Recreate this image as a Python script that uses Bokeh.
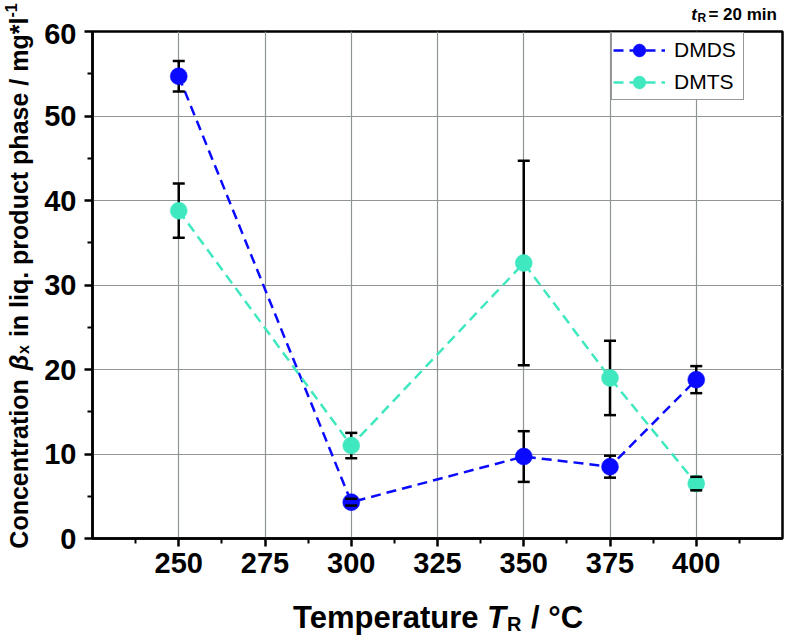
import math
from bokeh.plotting import figure
from bokeh.models import FixedTicker, Legend, LegendItem, Range1d
from bokeh.layouts import row, column
from bokeh.core.properties import value
from bokeh.embed import file_html
from bokeh.resources import INLINE

# ---------------- data ----------------
temps = [250, 300, 350, 375, 400]
dmds = [54.7, 4.3, 9.7, 8.5, 18.8]
dmds_err = [1.8, 0.4, 3.0, 1.3, 1.6]
dmts = [38.8, 11.0, 32.6, 19.0, 6.5]
dmts_err = [3.2, 1.5, 12.1, 4.4, 0.8]

x_ticks = [250, 275, 300, 325, 350, 375, 400]
x_minor = [237.5, 262.5, 287.5, 312.5, 337.5, 362.5, 387.5, 412.5]
y_ticks = [0, 10, 20, 30, 40, 50, 60]
y_minor = [5, 15, 25, 35, 45, 55]

C_DMDS = "#0a0aff"
C_DMTS = "#40e8c0"
GRID = "#8f9595"
FONT = "Liberation Sans"

# Arial / Liberation Sans Bold advance widths (per 1000 em)
BW = {' ': 278, '.': 278, '/': 278, '*': 389, '-': 333, '=': 584, '°': 400,
      '0': 556, '1': 556, '2': 556, '3': 556, '4': 556, '5': 556, '6': 556, '7': 556, '8': 556, '9': 556,
      'C': 722, 'R': 722, 'T': 611,
      'a': 556, 'b': 611, 'c': 556, 'd': 611, 'e': 556, 'f': 333, 'g': 611, 'h': 611, 'i': 278,
      'l': 278, 'm': 889, 'n': 611, 'o': 611, 'p': 611, 'q': 611, 'r': 389, 's': 556, 't': 333,
      'u': 611, 'x': 556, 'β': 611}


def tw(s, size):
    return sum(BW.get(c, 556) for c in s) * size / 1000.0


def strip(w, h):
    f = figure(width=w, height=h, x_range=Range1d(0, w), y_range=Range1d(0, h),
               x_axis_type=None, y_axis_type=None, output_backend="svg",
               toolbar_location=None, min_border=0)
    f.outline_line_color = None
    f.background_fill_color = "white"
    f.border_fill_color = "white"
    return f


def put(f, parts, x0, y0, angle=0.0, align="left"):
    """parts: (text, size, style, shift_px, advance_px, lead_px) drawn along the angle direction."""
    ca, sa = math.cos(angle), math.sin(angle)
    pos = 0.0
    for txt, sz, st, shift, adv, lead in parts:
        s = pos + lead
        xx = x0 + s * ca + shift * sa
        yy = y0 + s * sa - shift * ca
        f.text(x=[xx], y=[yy], text=[txt], text_font=value(FONT), text_font_style=st,
               text_font_size=f"{sz}px", text_color="black", text_align=align,
               text_baseline="alphabetic", angle=angle)
        pos += adv


# ---------------- sizes (page coordinates = canvas coordinates) ----------------
W_ALL = 786
LW = 40               # left strip width  (page x 0..40)
RW = W_ALL - LW       # right column width (page x 40..786)
TH = 23               # top strip height  (page y 0..23)
MH = 565              # main figure height (page y 23..588)
BH = 54               # bottom strip height (page y 588..642)
TOTAL_H = TH + MH + BH

# ---------------- main plot ----------------
p = figure(width=RW, height=MH, x_range=(225, 425), y_range=(0, 60),
           output_backend="svg", toolbar_location=None,
           min_border_left=52, min_border_right=RW - 52 - 690,
           min_border_top=31 - TH, min_border_bottom=50)
p.background_fill_color = "white"
p.border_fill_color = "white"
p.outline_line_color = "black"
p.outline_line_width = 2.5

for ax in (p.xaxis[0], p.yaxis[0]):
    ax.axis_line_width = 2.5
    ax.axis_line_color = "black"
    ax.major_tick_line_width = 2.5
    ax.minor_tick_line_width = 2.0
    ax.major_tick_out = 8
    ax.major_tick_in = 0
    ax.minor_tick_out = 5
    ax.minor_tick_in = 0
    ax.major_label_text_font = FONT
    ax.major_label_text_font_style = "bold"
    ax.major_label_text_font_size = "29px"
    ax.major_label_text_color = "black"
    ax.axis_label = None

p.xaxis[0].ticker = FixedTicker(ticks=x_ticks, minor_ticks=x_minor)
p.yaxis[0].ticker = FixedTicker(ticks=y_ticks, minor_ticks=y_minor)
p.xaxis[0].major_label_standoff = 6
p.yaxis[0].major_label_standoff = 8

p.xgrid.ticker = FixedTicker(ticks=x_ticks)
p.ygrid.ticker = FixedTicker(ticks=y_ticks)
for g in (p.xgrid[0], p.ygrid[0]):
    g.grid_line_color = GRID
    g.grid_line_width = 1.2

l1 = p.line(temps, dmds, line_color=C_DMDS, line_width=2.5, line_dash="10 6")
l2 = p.line(temps, dmts, line_color=C_DMTS, line_width=2.5, line_dash="10 6")

dmds_lo = [v - e for v, e in zip(dmds, dmds_err)]
dmds_hi = [v + e for v, e in zip(dmds, dmds_err)]
dmts_lo = [v - e for v, e in zip(dmts, dmts_err)]
dmts_hi = [v + e for v, e in zip(dmts, dmts_err)]
p.segment(x0=temps, y0=dmts_lo, x1=temps, y1=dmts_hi, line_color="black", line_width=2.5)
p.segment(x0=temps, y0=dmds_lo, x1=temps, y1=dmds_hi, line_color="black", line_width=2.5)

m1 = p.scatter(temps, dmds, size=17, fill_color=C_DMDS, line_color=C_DMDS, line_width=0.5)
m2 = p.scatter(temps, dmts, size=17, fill_color=C_DMTS, line_color=C_DMTS, line_width=0.5)

for lo, hi in ((dmds_lo, dmds_hi), (dmts_lo, dmts_hi)):
    p.scatter(temps, lo, marker="dash", size=12, line_color="black", line_width=2.5)
    p.scatter(temps, hi, marker="dash", size=12, line_color="black", line_width=2.5)

legend = Legend(items=[LegendItem(label="DMDS", renderers=[l1, m1]),
                       LegendItem(label="DMTS", renderers=[l2, m2])],
                location=(519, 438))
legend.label_text_font = FONT
legend.label_text_font_size = "21px"
legend.label_text_color = "black"
legend.glyph_width = 52
legend.glyph_height = 32
legend.label_height = 32
legend.label_width = 68
legend.label_standoff = 9
legend.spacing = 0
legend.padding = 1
legend.margin = 0
legend.border_line_color = "#333333"
legend.border_line_width = 1.5
legend.background_fill_alpha = 1.0
p.add_layout(legend)

# ---------------- top strip: t_R = 20 min ----------------
top = strip(RW, TH)
TS, TSUB = 17, 12
T_END = 780 - LW               # right end (strip x)
T_BASE = TH - (19.5 - 5.5)     # baseline, corrected for glyph baseline offset
rest_w = tw(" = 20 min", TS) + 3
r_w = tw("R", TSUB) + 1
t_w = tw("t", TS) + 1
put(top, [("= 20 min", TS, "bold", 0, 0, 0)], T_END, T_BASE, align="right")
put(top, [("t", TS, "bold italic", 0, t_w, 0),
          ("R", TSUB, "bold", 3, r_w, 0)], T_END - rest_w - r_w - t_w, T_BASE)

# ---------------- bottom strip (full width): x-axis title ----------------
bot = strip(W_ALL, BH)
XS, XSUB = 31, 20
ANCHOR = 478                       # right edge of "Temperature" (page x)
BASE = TOTAL_H - (628 - 11)        # baseline, corrected for glyph baseline offset
put(bot, [("Temperature", XS, "bold", 0, 0, 0)], ANCHOR, BASE, align="right")
put(bot, [("T", XS, "bold italic", 0, tw("T", XS) + 1, 0),
          ("R", XSUB, "bold", 6, tw("R", XSUB) + 1, 0),
          ("/ °C", XS, "bold", 0, 0, tw(" ", XS))],
    ANCHOR + tw(" ", XS), BASE)

# ---------------- left strip: y-axis title ----------------
LH = TH + MH
left = strip(LW, LH)
YS, YSUB = 25, 16
y_parts = [("Concentration", YS, "bold", 0, tw("Concentration ", YS) + 2, 0),
           ("β", YS, "bold italic", 0, tw("β", YS) + 1, 0),
           ("x", YSUB, "bold", 5, tw("x", YSUB) + 1, 0),
           ("in liq. product phase / mg*l", YS, "bold", 0, tw(" in liq. product phase / mg*l", YS), tw(" ", YS)),
           ("-1", YSUB, "bold", -8, tw("-1", YSUB), 0)]
tot_y = sum(pp[4] for pp in y_parts)
put(left, y_parts, 25 - 7, (LH - 275.5) - tot_y / 2, angle=math.pi / 2)

layout = column(row(left, column(top, p)), bot)
open("out.html", "w").write(file_html(layout, INLINE))
